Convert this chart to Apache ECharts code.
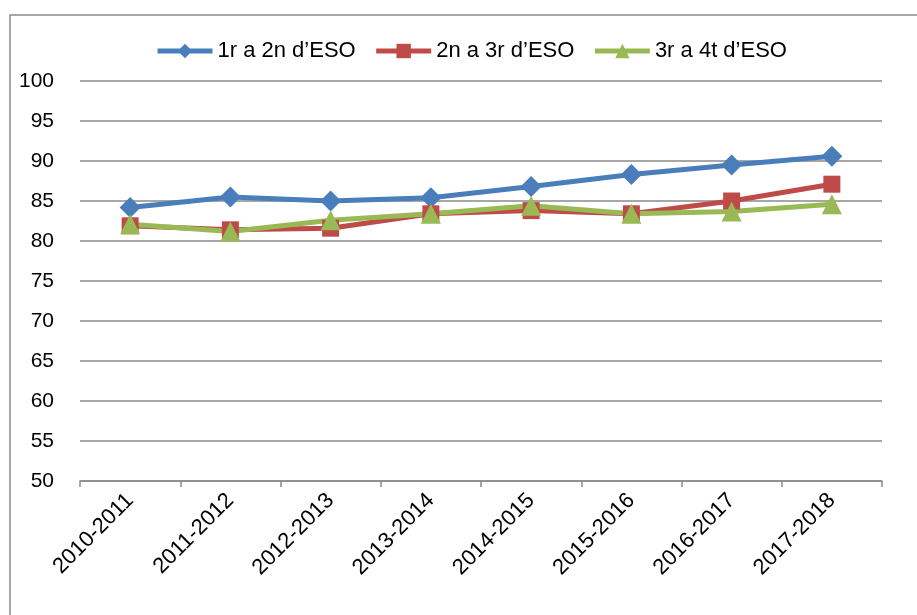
<!DOCTYPE html>
<html>
<head>
<meta charset="utf-8">
<script src="https://cdn.jsdelivr.net/npm/echarts@6/dist/echarts.min.js"></script>
<style>
  html, body { margin: 0; padding: 0; background: #fff; }
  #chart { width: 917px; height: 615px; }
</style>
</head>
<body>
<div id="chart"></div>
<script>
// dades del gràfic
const courses = ['2010-2011', '2011-2012', '2012-2013', '2013-2014', '2014-2015', '2015-2016', '2016-2017', '2017-2018']
const seriesNames = ['1r a 2n d\u2019ESO', '2n a 3r d\u2019ESO', '3r a 4t d\u2019ESO']
const first = [84.2, 85.5, 85.0, 85.4, 86.8, 88.3, 89.5, 90.6]
const second = [81.9, 81.4, 81.6, 83.4, 83.8, 83.4, 85.0, 87.1]
const third = [82.1, 81.2, 82.6, 83.4, 84.4, 83.4, 83.7, 84.6]
const yTicks = [50, 55, 60, 65, 70, 75, 80, 85, 90, 95, 100]

const font = 'Liberation Sans'
const chart = echarts.init(document.getElementById('chart'))

function lineSeries(name, data, color, symbol, size) {
  return {
    name: name,
    type: 'line',
    data: data,
    symbol: symbol,
    symbolSize: size,
    itemStyle: { color: color },
    lineStyle: { color: color, width: 5 },
    animation: false
  }
}

chart.setOption({
  backgroundColor: '#fff',
  graphic: [{
    type: 'rect',
    shape: { x: 10, y: 15, width: 1000, height: 700 },
    style: { fill: 'none', stroke: '#8a8a8a', lineWidth: 1.5 },
    silent: true
  }],
  legend: {
    top: 35,
    left: 150,
    itemWidth: 55,
    itemHeight: 18,
    itemGap: 18,
    lineStyle: { width: 5 },
    textStyle: { fontFamily: font, fontSize: 22, color: '#000' },
    data: seriesNames
  },
  grid: { left: 80, right: 35, top: 81, bottom: 134 },
  xAxis: {
    type: 'category',
    data: courses,
    boundaryGap: true,
    axisLine: { lineStyle: { color: '#8a8a8a', width: 1.5 } },
    axisTick: { show: true, length: 6, lineStyle: { color: '#8a8a8a', width: 1.5 } },
    axisLabel: { rotate: 45, margin: 16, fontFamily: font, fontSize: 22, color: '#000' }
  },
  yAxis: {
    type: 'value',
    min: yTicks[0],
    max: yTicks[yTicks.length - 1],
    interval: 5,
    axisLine: { show: false },
    axisTick: { show: false },
    splitLine: { lineStyle: { color: '#8a8a8a', width: 1.5 } },
    axisLabel: { margin: 26, fontFamily: font, fontSize: 21, color: '#000' }
  },
  series: [
    lineSeries(seriesNames[0], first, '#4A7EBB', 'diamond', 21),
    lineSeries(seriesNames[1], second, '#BE4B48', 'rect', 17),
    lineSeries(seriesNames[2], third, '#98B954', 'triangle', 20)
  ]
})
</script>
</body>
</html>
